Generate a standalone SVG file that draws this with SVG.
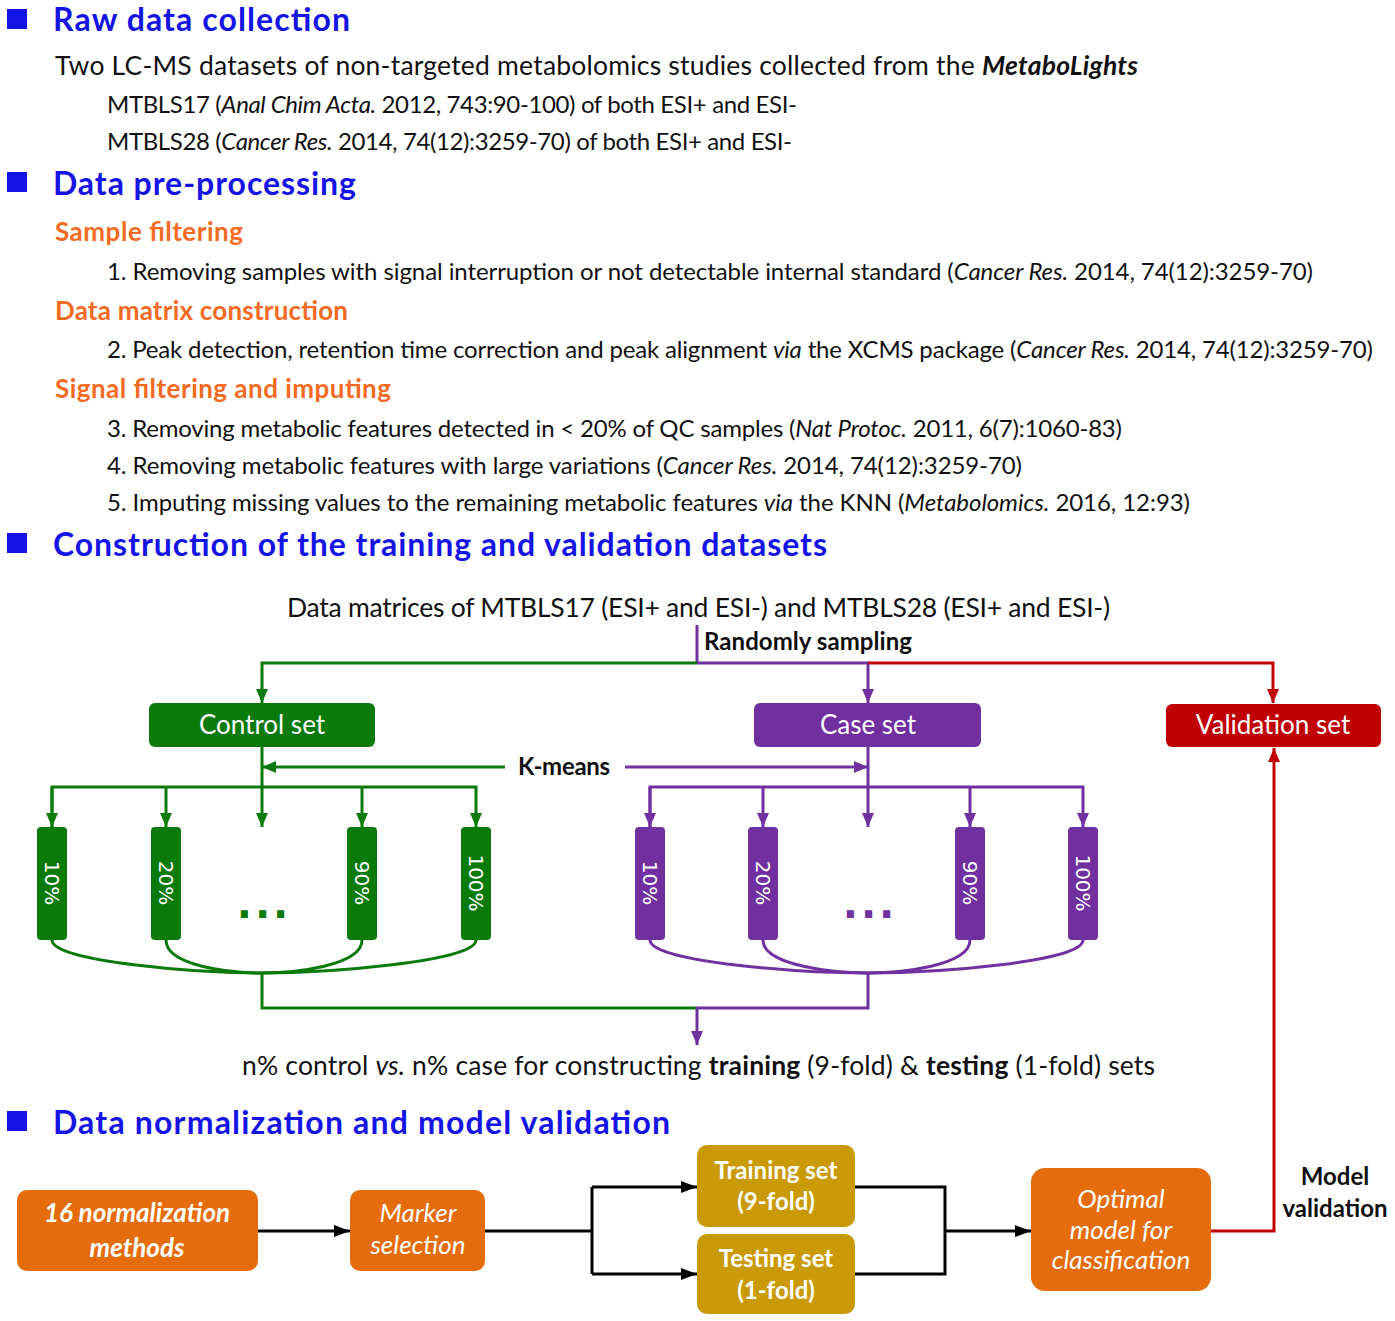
<svg xmlns="http://www.w3.org/2000/svg" width="1395" height="1321" viewBox="0 0 1395 1321">
<defs>
<style>
text{font-family:Lato,"Liberation Sans",sans-serif;fill:#111}
.h{font-size:32px;font-weight:bold;fill:#1414e6}
.sub{font-size:26px;font-weight:bold;fill:#f36a22}
.t25{font-size:26.5px}
.t22{font-size:24px}
.i{font-style:italic}
.b{font-weight:bold}
.wt{fill:#fff;font-size:26px;text-anchor:middle}
.pct{font-family:"DejaVu Sans",sans-serif;font-size:20px;fill:#fff;text-anchor:middle}
.g{stroke:#0a7a0a;stroke-width:3;fill:none}
.p{stroke:#7030a0;stroke-width:3;fill:none}
.r{stroke:#c00000;stroke-width:3;fill:none}
.k{stroke:#000;stroke-width:3;fill:none}
</style>
<marker id="ag" viewBox="0 0 14 12" refX="14" refY="6" markerWidth="14" markerHeight="12" markerUnits="userSpaceOnUse" orient="auto"><path d="M0,0L14,6L0,12z" fill="#0a7a0a"/></marker>
<marker id="ap" viewBox="0 0 14 12" refX="14" refY="6" markerWidth="14" markerHeight="12" markerUnits="userSpaceOnUse" orient="auto"><path d="M0,0L14,6L0,12z" fill="#7030a0"/></marker>
<marker id="ar" viewBox="0 0 14 12" refX="14" refY="6" markerWidth="14" markerHeight="12" markerUnits="userSpaceOnUse" orient="auto"><path d="M0,0L14,6L0,12z" fill="#c00000"/></marker>
<marker id="ak" viewBox="0 0 16 12" refX="16" refY="6" markerWidth="16" markerHeight="12" markerUnits="userSpaceOnUse" orient="auto"><path d="M0,0L16,6L0,12z" fill="#000"/></marker>
</defs>
<rect width="1395" height="1321" fill="#fff"/>

<g id="text-raw">
<rect x="7" y="9" width="20" height="20" fill="#1414e6"/>
<text class="h" x="53" y="31" textLength="297">Raw data collection</text>
<text class="t25" x="55" y="75" textLength="1083">Two LC-MS datasets of non-targeted  metabolomics studies collected from the <tspan class="b i">MetaboLights</tspan></text>
<text class="t22" x="107" y="113" textLength="690">MTBLS17 (<tspan class="i">Anal Chim Acta.</tspan> 2012, 743:90-100) of both ESI+ and ESI-</text>
<text class="t22" x="107" y="150" textLength="685">MTBLS28 (<tspan class="i">Cancer Res.</tspan> 2014, 74(12):3259-70) of both ESI+ and ESI-</text>
</g>

<g id="text-pre">
<rect x="7" y="172" width="20" height="20" fill="#1414e6"/>
<text class="h" x="53" y="195" textLength="303">Data pre-processing</text>
<text class="sub" x="55" y="241" textLength="188">Sample filtering</text>
<text class="t22" x="107" y="280" textLength="1206">1. Removing samples with signal interruption or not detectable internal standard (<tspan class="i">Cancer Res.</tspan> 2014, 74(12):3259-70)</text>
<text class="sub" x="55" y="320" textLength="293">Data matrix construction</text>
<text class="t22" x="107" y="358" textLength="1266">2. Peak detection, retention time correction and peak alignment <tspan class="i">via</tspan> the XCMS package (<tspan class="i">Cancer Res.</tspan> 2014, 74(12):3259-70)</text>
<text class="sub" x="55" y="398" textLength="336">Signal filtering and imputing</text>
<text class="t22" x="107" y="437" textLength="1015">3. Removing metabolic features detected in &lt; 20% of QC samples (<tspan class="i">Nat Protoc.</tspan> 2011, 6(7):1060-83)</text>
<text class="t22" x="107" y="474" textLength="915">4. Removing metabolic features with large variations (<tspan class="i">Cancer Res.</tspan> 2014, 74(12):3259-70)</text>
<text class="t22" x="107" y="511" textLength="1083">5. Imputing missing values to the remaining metabolic features <tspan class="i">via</tspan> the KNN (<tspan class="i">Metabolomics.</tspan> 2016, 12:93)</text>
</g>

<g id="text-construction">
<rect x="7" y="533" width="20" height="20" fill="#1414e6"/>
<text class="h" x="53" y="556" textLength="774">Construction of the training and validation datasets</text>
<text class="t25" x="287" y="617" textLength="823">Data matrices of MTBLS17 (ESI+ and ESI-) and MTBLS28 (ESI+ and ESI-)</text>
<text class="t22 b" x="704" y="650" textLength="208">Randomly sampling</text>
<text class="t22 b" x="518" y="775" textLength="92">K-means</text>
<text class="t25" x="242" y="1075" textLength="913">n% control <tspan class="i">vs.</tspan> n% case for constructing <tspan class="b">training</tspan> (9-fold) &amp; <tspan class="b">testing</tspan> (1-fold) sets</text>
</g>

<g id="text-norm">
<rect x="7" y="1111" width="20" height="20" fill="#1414e6"/>
<text class="h" x="53" y="1134" textLength="617">Data normalization and model validation</text>
<text class="t22 b" x="1335" y="1185" text-anchor="middle">Model</text>
<text class="t22 b" x="1335" y="1217" text-anchor="middle">validation</text>
</g>

<g id="connectors">
<path class="p" d="M697,625V663"/>
<path class="g" d="M697,663H262V703" marker-end="url(#ag)"/>
<path class="p" d="M697,663H868V703" marker-end="url(#ap)"/>
<path class="r" d="M868,663H1273V703" marker-end="url(#ar)"/>
<path class="g" d="M505,767H262" marker-end="url(#ag)"/>
<path class="p" d="M625,767H868" marker-end="url(#ap)"/>
<path class="g" d="M262,747V827" marker-end="url(#ag)"/>
<path class="g" d="M52,827V787H476V827" marker-end="url(#ag)"/>
<path class="g" d="M52,787V827" marker-end="url(#ag)"/>
<path class="g" d="M166,787V827" marker-end="url(#ag)"/>
<path class="g" d="M362,787V827" marker-end="url(#ag)"/>
<path class="p" d="M868,747V827" marker-end="url(#ap)"/>
<path class="p" d="M650,827V787H1083V827" marker-end="url(#ap)"/>
<path class="p" d="M650,787V827" marker-end="url(#ap)"/>
<path class="p" d="M763,787V827" marker-end="url(#ap)"/>
<path class="p" d="M970,787V827" marker-end="url(#ap)"/>
<path class="g" d="M52,940C52,962 200,973 262,973"/>
<path class="g" d="M166,940C166,966 230,973 262,973"/>
<path class="g" d="M362,940C362,966 294,973 262,973"/>
<path class="g" d="M476,940C476,962 324,973 262,973"/>
<path class="g" d="M262,973V1008H697"/>
<path class="p" d="M650,940C650,962 800,973 868,973"/>
<path class="p" d="M763,940C763,966 836,973 868,973"/>
<path class="p" d="M970,940C970,966 900,973 868,973"/>
<path class="p" d="M1083,940C1083,962 936,973 868,973"/>
<path class="p" d="M868,973V1008H697V1045" marker-end="url(#ap)"/>
<path class="k" d="M258,1231H350" marker-end="url(#ak)"/>
<path class="k" d="M485,1231H592"/>
<path class="k" d="M592,1187V1274"/>
<path class="k" d="M592,1187H697" marker-end="url(#ak)"/>
<path class="k" d="M592,1274H697" marker-end="url(#ak)"/>
<path class="k" d="M855,1187H945V1274H855"/>
<path class="k" d="M945,1231H1031" marker-end="url(#ak)"/>
<path class="r" d="M1211,1231H1274V748" marker-end="url(#ar)"/>
</g>

<g id="control-set"><rect x="149" y="703" width="226" height="44" rx="6" fill="#0a7a0a"/><text class="wt" x="262" y="734">Control set</text></g>
<g id="case-set"><rect x="754" y="703" width="227" height="44" rx="6" fill="#7030a0"/><text class="wt" x="868" y="734">Case set</text></g>
<g id="validation-set"><rect x="1166" y="704" width="215" height="43" rx="6" fill="#c00000"/><text class="wt" x="1273" y="734">Validation set</text></g>

<g id="control-10"><rect x="37" y="827" width="30" height="113" rx="4" fill="#0a7a0a"/><text class="pct" transform="translate(52,883) rotate(90)" y="7">10%</text></g>
<g id="control-20"><rect x="151" y="827" width="30" height="113" rx="4" fill="#0a7a0a"/><text class="pct" transform="translate(166,883) rotate(90)" y="7">20%</text></g>
<g id="control-dots"><text x="264" y="918" text-anchor="middle" style="font-family:'DejaVu Sans',sans-serif;font-size:40px;font-weight:bold;fill:#0a7a0a;letter-spacing:3px">...</text></g>
<g id="control-90"><rect x="347" y="827" width="30" height="113" rx="4" fill="#0a7a0a"/><text class="pct" transform="translate(362,883) rotate(90)" y="7">90%</text></g>
<g id="control-100"><rect x="461" y="827" width="30" height="113" rx="4" fill="#0a7a0a"/><text class="pct" transform="translate(476,883) rotate(90)" y="7">100%</text></g>

<g id="case-10"><rect x="635" y="827" width="30" height="113" rx="4" fill="#7030a0"/><text class="pct" transform="translate(650,883) rotate(90)" y="7">10%</text></g>
<g id="case-20"><rect x="748" y="827" width="30" height="113" rx="4" fill="#7030a0"/><text class="pct" transform="translate(763,883) rotate(90)" y="7">20%</text></g>
<g id="case-dots"><text x="870" y="918" text-anchor="middle" style="font-family:'DejaVu Sans',sans-serif;font-size:40px;font-weight:bold;fill:#7030a0;letter-spacing:3px">...</text></g>
<g id="case-90"><rect x="955" y="827" width="30" height="113" rx="4" fill="#7030a0"/><text class="pct" transform="translate(970,883) rotate(90)" y="7">90%</text></g>
<g id="case-100"><rect x="1068" y="827" width="30" height="113" rx="4" fill="#7030a0"/><text class="pct" transform="translate(1083,883) rotate(90)" y="7">100%</text></g>

<g id="normalization"><rect x="17" y="1190" width="241" height="81" rx="10" fill="#e46c0a"/><text class="wt b i" x="137" y="1222">16 normalization</text><text class="wt b i" x="137" y="1257">methods</text></g>
<g id="marker"><rect x="350" y="1190" width="135" height="81" rx="10" fill="#e46c0a"/><text class="wt i" x="418" y="1222">Marker</text><text class="wt i" x="418" y="1254">selection</text></g>
<g id="training"><rect x="697" y="1145" width="158" height="82" rx="10" fill="#c99a06"/><text class="wt b" x="776" y="1179" style="font-size:24px">Training set</text><text class="wt b" x="776" y="1210" style="font-size:24px">(9-fold)</text></g>
<g id="testing"><rect x="697" y="1234" width="158" height="80" rx="10" fill="#c99a06"/><text class="wt b" x="776" y="1267" style="font-size:24px">Testing set</text><text class="wt b" x="776" y="1299" style="font-size:24px">(1-fold)</text></g>
<g id="optimal"><rect x="1031" y="1168" width="180" height="123" rx="14" fill="#e46c0a"/><text class="wt i" x="1121" y="1208">Optimal</text><text class="wt i" x="1121" y="1239">model for</text><text class="wt i" x="1121" y="1269">classification</text></g>
</svg>
